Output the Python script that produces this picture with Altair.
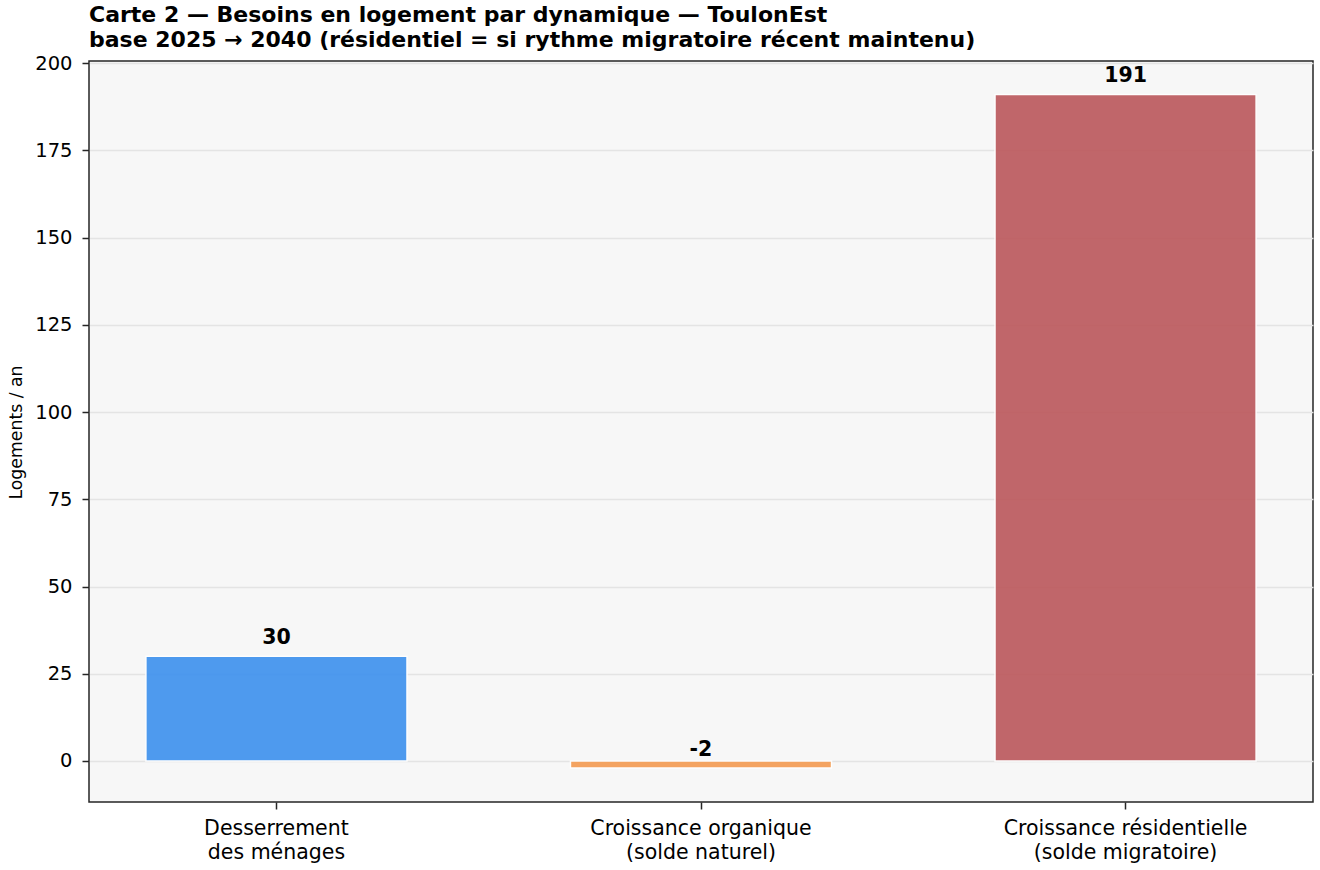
import altair as alt
import pandas as pd

# Housing needs by driver, dwellings per year
categories = [
    "Desserrement\ndes ménages",
    "Croissance organique\n(solde naturel)",
    "Croissance résidentielle\n(solde migratoire)",
]
values = [30, -2, 191]
colors = ["#3C90EE", "#F49B51", "#BB575B"]
labels = ["30", "-2", "191"]

df = pd.DataFrame({"cat": categories, "val": values, "color": colors, "lab": labels})

FONT = "DejaVu Sans"
W, H = 1224, 741

x = alt.X(
    "cat:N",
    sort=None,
    scale=alt.Scale(paddingInner=0.385, paddingOuter=0.134),
    axis=alt.Axis(
        title=None,
        labelAngle=0,
        labelExpr="split(datum.label, '\\n')",
        labelFont=FONT,
        labelFontSize=20.5,
        labelLineHeight=24,
        labelLimit=0,
        labelColor="#000000",
        labelBaseline="top",
        labelPadding=9,
        tickColor="#262626",
        tickWidth=1.5,
        tickSize=7,
        domain=False,
        grid=False,
    ),
)

y_scale = alt.Scale(domain=[-11.75, 200.6], nice=False, zero=False)

bars = alt.Chart(df).mark_bar(
    stroke="white", strokeWidth=1.5, opacity=0.9
).encode(
    x=x,
    y=alt.Y(
        "val:Q",
        scale=y_scale,
        axis=alt.Axis(
            title="Logements / an",
            values=[0, 25, 50, 75, 100, 125, 150, 175, 200],
            labelFont=FONT,
            labelFontSize=19.5,
            labelColor="#000000",
            labelPadding=10,
            tickColor="#262626",
            tickWidth=1.5,
            tickSize=7,
            domain=False,
            grid=True,
            gridColor="#E4E4E4",
            gridWidth=1.5,
            titleFont=FONT,
            titleFontSize=17.3,
            titleFontWeight="normal",
            titleColor="#000000",
            titleAngle=270,
            titleX=-73,
            titleY=371,
            titleBaseline="middle",
            titleAlign="center",
        ),
    ),
    y2=alt.datum(0),
    color=alt.Color("color:N", scale=None),
)

text = alt.Chart(df).mark_text(
    font=FONT, fontSize=20.5, fontWeight="bold", color="#000000",
    baseline="alphabetic", dy=-12,
).encode(
    x=alt.X("cat:N", sort=None),
    y=alt.Y("val:Q", scale=y_scale),
    text="lab:N",
)

chart = alt.layer(bars, text).properties(
    width=W,
    height=H,
    background="white",
    padding={"left": 89, "top": 61, "right": 7, "bottom": 68},
    autosize=alt.AutoSizeParams(type="none"),
    title=alt.TitleParams(
        text=[
            "Carte 2 — Besoins en logement par dynamique — ToulonEst",
            "base 2025 → 2040 (résidentiel = si rythme migratoire récent maintenu)",
        ],
        anchor="start",
        frame="group",
        font=FONT,
        fontSize=22,
        fontWeight="bold",
        color="#000000",
        lineHeight=25,
        offset=1,
    ),
).configure_view(
    fill="#F7F7F7",
    stroke="#262626",
    strokeWidth=1.5,
)

chart.save("out.html", embed_options={"renderer": "svg", "actions": False})
